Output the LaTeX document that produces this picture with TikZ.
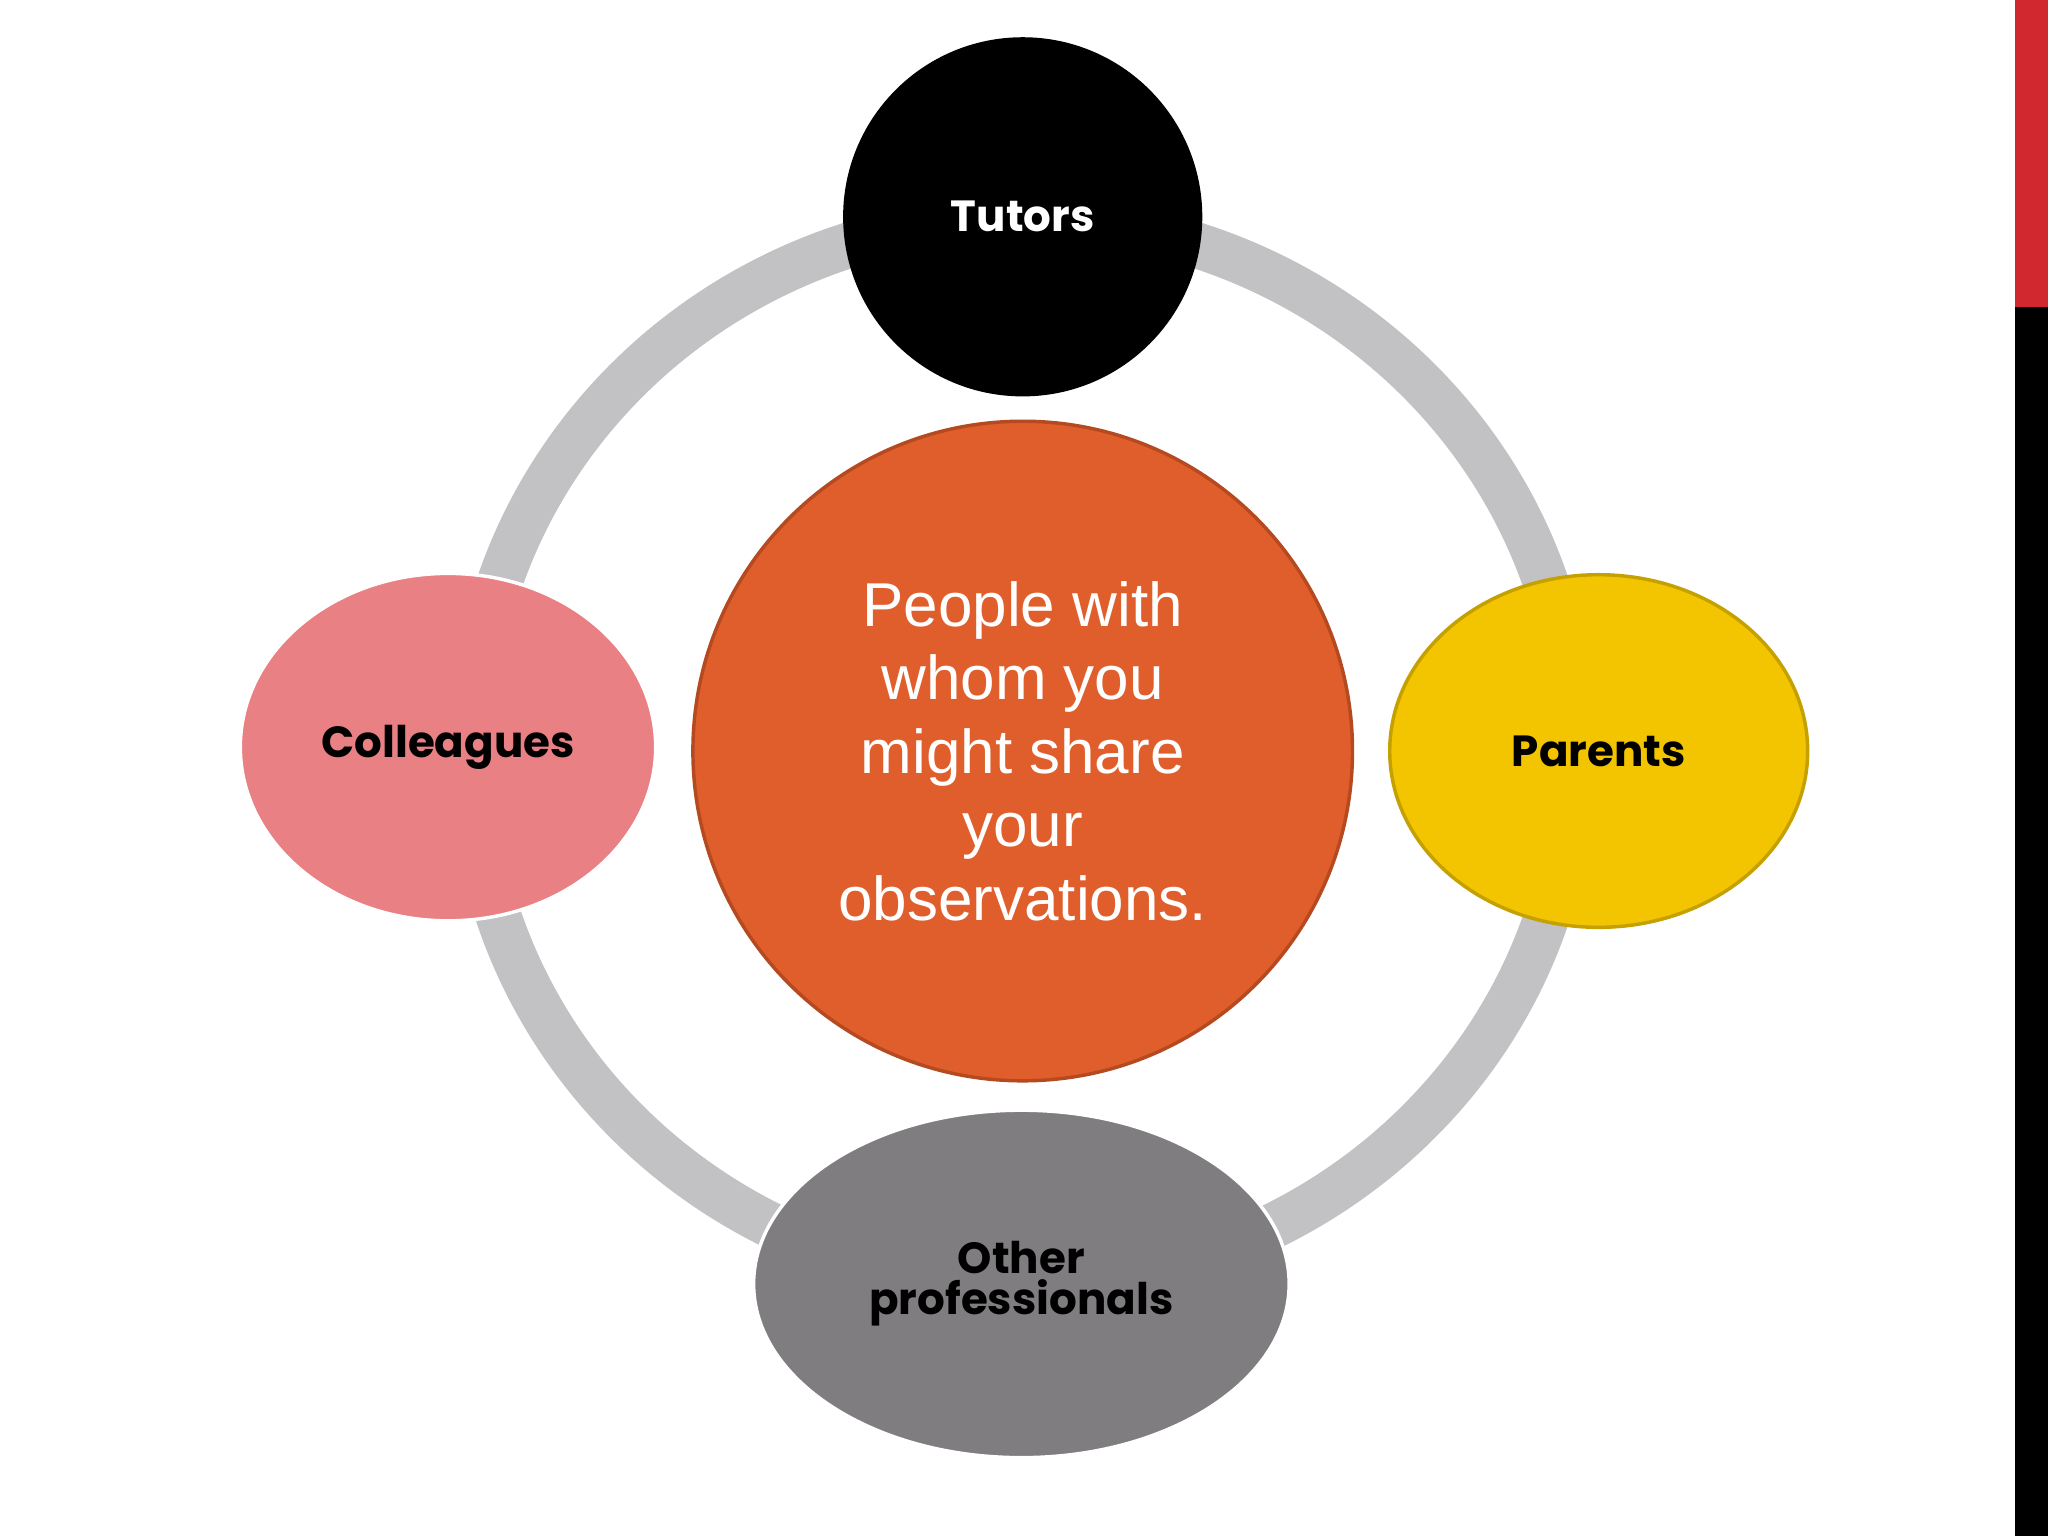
\documentclass[tikz,border=0pt]{standalone}
\usepackage{fontspec}
\setmainfont{Liberation Sans}
\newfontfamily\labfont{Poppins}
\usetikzlibrary{shapes.geometric}
\definecolor{ringgray}{HTML}{C2C1C3}
\definecolor{centerfill}{HTML}{DF5E2C}
\definecolor{centerdraw}{HTML}{B5491F}
\definecolor{pinkfill}{HTML}{E88084}
\definecolor{yellowfill}{HTML}{F2C500}
\definecolor{yellowdraw}{HTML}{C4A000}
\definecolor{grayfill}{HTML}{7F7D80}
\definecolor{barred}{HTML}{D0282E}
\tikzset{
  lab/.style={font=\labfont\bfseries\fontsize{19}{18}\selectfont, align=center},
  blob/.style={ellipse, line width=1.5pt, inner sep=0pt}
}
\begin{document}
\begin{tikzpicture}[x=0.02cm,y=-0.02cm]
\useasboundingbox (0,0) rectangle (1568,1176);
\fill[white] (0,0) rectangle (1568,1176);
\fill[barred] (1543,0) rectangle (1568,235);
\fill[black] (1543,235) rectangle (1568,1176);
\draw[ringgray, line width=0.7cm] (783,575) ellipse [x radius=422, y radius=408];
\node[blob, circle, minimum size=505*0.02cm, fill=centerfill, draw=centerdraw, text=white,
  font=\fontsize{27}{32}\selectfont, align=center] (center) at (783,575)
  {People with\\whom you\\might share\\your\\observations.};
\node[circle, minimum size=275*0.02cm, fill=black, text=white, lab, inner sep=0pt] (tutors) at (783,166) {Tutors};
\node[blob, minimum width=318*0.02cm, minimum height=266*0.02cm, fill=pinkfill, draw=white, lab] (coll) at (343,572) {Colleagues};
\node[blob, minimum width=320*0.02cm, minimum height=270*0.02cm, fill=yellowfill, draw=yellowdraw, lab] (par) at (1224,575) {Parents};
\node[blob, minimum width=410*0.02cm, minimum height=266*0.02cm, fill=grayfill, draw=white, lab] (other) at (782,983) {Other\\professionals};
\end{tikzpicture}
\end{document}
